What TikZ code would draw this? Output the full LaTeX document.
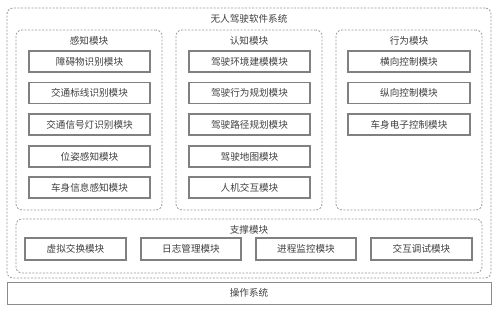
\documentclass[tikz,border=0pt]{standalone}
\usepackage{fontspec}
\setmainfont{Noto Sans CJK SC}
\begin{document}
\begin{tikzpicture}[x=1pt,y=-1pt,
  txt/.style={text=black!75,font=\fontsize{9.6}{11}\selectfont,inner sep=0pt},
  group/.style={draw=black!40,dashed,dash pattern=on 2pt off 1.5pt,line width=0.8pt,rounded corners=6pt,inner sep=0pt},
  modbox/.style={draw=black!50,line width=1.1pt,minimum height=21pt,inner sep=0pt,text=black!75,font=\fontsize{9.6}{11}\selectfont},
  osbox/.style={draw=black!45,line width=1pt,minimum width=484pt,minimum height=22pt,inner sep=0pt,text=black!75,font=\fontsize{9.6}{11}\selectfont}]
\useasboundingbox (0,0) rectangle (500,312);
\fill[white] (0,0) rectangle (500,312);
% outer system
\node[group,minimum width=484pt,minimum height=270pt] (sys) at (249,143) {};
\node[txt] (systitle) at (249,19) {无人驾驶软件系统};
% perception
\node[group,minimum width=146pt,minimum height=180pt] (perc) at (89,120) {};
\node[txt] (perctitle) at (89,41) {感知模块};
\node[modbox,minimum width=121pt] (p1) at (89.5,61.5) {障碍物识别模块};
\node[modbox,minimum width=121pt] (p2) at (89.5,93) {交通标线识别模块};
\node[modbox,minimum width=121pt] (p3) at (89.5,124.5) {交通信号灯识别模块};
\node[modbox,minimum width=121pt] (p4) at (89.5,156.5) {位姿感知模块};
\node[modbox,minimum width=121pt] (p5) at (89.5,187.5) {车身信息感知模块};
% cognition
\node[group,minimum width=146pt,minimum height=180pt] (cog) at (249,120) {};
\node[txt] (cogtitle) at (249,41) {认知模块};
\node[modbox,minimum width=121pt] (c1) at (249.5,61.5) {驾驶环境建模模块};
\node[modbox,minimum width=121pt] (c2) at (249.5,93) {驾驶行为规划模块};
\node[modbox,minimum width=121pt] (c3) at (249.5,124.5) {驾驶路径规划模块};
\node[modbox,minimum width=121pt] (c4) at (249.5,156.5) {驾驶地图模块};
\node[modbox,minimum width=121pt] (c5) at (249.5,187.5) {人机交互模块};
% behavior
\node[group,minimum width=146pt,minimum height=180pt] (beh) at (409,120) {};
\node[txt] (behtitle) at (409,41) {行为模块};
\node[modbox,minimum width=122pt] (b1) at (409,61.5) {横向控制模块};
\node[modbox,minimum width=122pt] (b2) at (409,93) {纵向控制模块};
\node[modbox,minimum width=122pt] (b3) at (409,124.5) {车身电子控制模块};
% support
\node[group,minimum width=466pt,minimum height=54pt] (sup) at (249,246) {};
\node[txt] (suptitle) at (249,230) {支撑模块};
\node[modbox,minimum width=101pt,minimum height=22pt] (s1) at (75.5,249) {虚拟交换模块};
\node[modbox,minimum width=100pt,minimum height=22pt] (s2) at (191,249) {日志管理模块};
\node[modbox,minimum width=100pt,minimum height=22pt] (s3) at (306,249) {进程监控模块};
\node[modbox,minimum width=101pt,minimum height=22pt] (s4) at (421.5,249) {交互调试模块};
% operating system
\node[osbox] (os) at (249,293) {操作系统};
\end{tikzpicture}
\end{document}
